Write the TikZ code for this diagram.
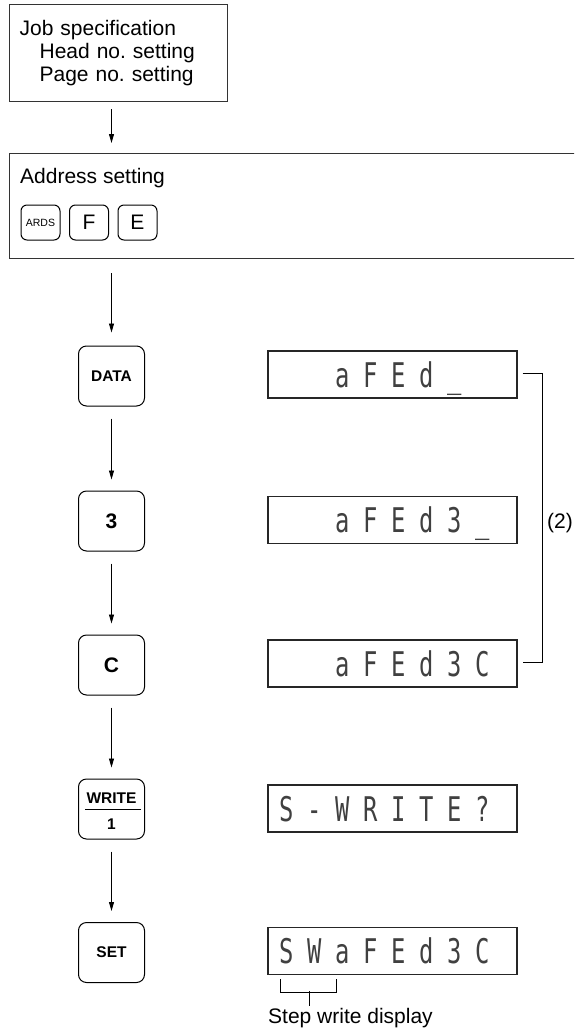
\documentclass[tikz,border=0pt]{standalone}
\usepackage{fontspec}
\usepackage{graphicx}
\setmainfont{Liberation Sans}
\newfontfamily\lcdfont{DejaVu Sans Mono}
\usetikzlibrary{arrows.meta}

\begin{document}
\begin{tikzpicture}[
        x=1pt, y=-1pt,
        stepbox/.style={draw=black!80, line width=1.2pt, inner sep=0pt},
        key/.style={draw, line width=1pt, rounded corners=8pt, minimum width=66pt, minimum height=60pt, inner sep=0pt, font=\fontsize{15.5}{18}\selectfont\bfseries},
        bigkey/.style={key, font=\fontsize{21}{24}\selectfont\bfseries},
        smallkey/.style={draw, line width=1pt, rounded corners=6pt, minimum width=39pt, minimum height=35pt, inner sep=0pt, font=\fontsize{21}{24}\selectfont},
        lcdbox/.style={draw=black!85, line width=1.2pt, minimum width=249pt, minimum height=47pt, inner sep=0pt},
        lcd/.style={font=\fontsize{34}{34}\lcdfont, text=black!75, anchor=base, inner sep=0pt},
        flow/.style={line width=0.9pt, -{Triangle[length=9pt, width=5pt]}, shorten <=12pt, shorten >=11pt},
        brk/.style={line width=1pt},
        txt/.style={font=\fontsize{21}{23}\selectfont, inner sep=0pt}
    ]
    \useasboundingbox (0,0) rectangle (574,1029);
    \clip (0,0) rectangle (574,1029);

    % Job specification
    \node[stepbox, anchor=north west, minimum width=218pt, minimum height=97pt, text width=198pt, inner xsep=10pt, align=left, font=\fontsize{21}{23}\selectfont] (job) at (9,4) {Job specification\\\hspace*{20pt}Head no.\ setting\\\hspace*{20pt}Page no.\ setting};

    % Address setting
    \node[stepbox, anchor=north west, minimum width=620pt, minimum height=105pt] (addr) at (9,153) {};
    \node[txt, anchor=west] (addrtxt) at (20,178) {Address setting};
    \node[smallkey, font=\fontsize{10.5}{12}\selectfont] (kards) at (40.5,222.5) {ARDS};
    \node[smallkey] (kf) at (89,222.5) {F};
    \node[smallkey] (ke) at (137.5,222.5) {E};

    % Keys
    \node[key] (kdata) at (111.5,376) {DATA};
    \node[bigkey] (kthree) at (111.5,521) {3};
    \node[bigkey] (kc) at (111.5,665) {C};
    \node[key] (kwrite) at (111.5,809) {};
    \node[key, draw=none, fill=none] (kwtop) at (111.5,798.5) {WRITE};
    \node[key, draw=none, fill=none] (kwbot) at (111.5,824.5) {1};
    \draw[brk] (85,809) -- (141,809);
    \node[key] (kset) at (111.5,952.5) {SET};

    % Displays
    \node[lcdbox] (ddata) at (392.5,374.5) {};
    \node[lcdbox] (dthree) at (392.5,520) {};
    \node[lcdbox] (dc) at (392.5,663.5) {};
    \node[lcdbox] (dwrite) at (392.5,808.5) {};
    \node[lcdbox] (dset) at (392.5,951) {};

    \foreach \c [count=\i from 3] in {a,F,E,d,\_}
        \node[lcd] at ([xshift={\i*28pt-9pt}, yshift=-12.5pt]ddata.west) {\scalebox{0.7}[1]{\c}};
    \foreach \c [count=\i from 3] in {a,F,E,d,3,\_}
        \node[lcd] at ([xshift={\i*28pt-9pt}, yshift=-12.5pt]dthree.west) {\scalebox{0.7}[1]{\c}};
    \foreach \c [count=\i from 3] in {a,F,E,d,3,C}
        \node[lcd] at ([xshift={\i*28pt-9pt}, yshift=-12.5pt]dc.west) {\scalebox{0.7}[1]{\c}};
    \foreach \c [count=\i] in {S,-,W,R,I,T,E,?}
        \node[lcd] at ([xshift={\i*28pt-9pt}, yshift=-12.5pt]dwrite.west) {\scalebox{0.7}[1]{\c}};
    \foreach \c [count=\i] in {S,W,a,F,E,d,3,C}
        \node[lcd] at ([xshift={\i*28pt-9pt}, yshift=-12.5pt]dset.west) {\scalebox{0.7}[1]{\c}};

    % Flow arrows
    \draw[flow, shorten <=7pt, shorten >=10pt] (job.south -| kdata) -- (addr.north -| kdata);
    \draw[flow, shorten <=14pt, shorten >=13pt] (addr.south -| kdata) -- (kdata);
    \draw[flow] (kdata) -- (kthree);
    \draw[flow] (kthree) -- (kc);
    \draw[flow] (kc) -- (kwrite);
    \draw[flow] (kwrite) -- (kset);

    % (2) bracket
    \draw[brk] ([xshift=5pt, yshift=1.5pt]ddata.east) -- ++(20,0) |- ([xshift=5pt, yshift=1.5pt]dc.east);
    \node[txt, anchor=west] (two) at (547,523) {(2)};

    % Step write bracket
    \coordinate (swmid) at (309,991);
    \draw[brk] ([xshift=13pt, yshift=-4pt]dset.south west) -- ++(0,13) -- ++(56,0) -- ++(0,-13);
    \node[txt, anchor=base west] (swd) at (268,1023) {Step write display};
    \draw[brk] (swmid) -- ([yshift=1.5pt]swmid |- swd.north);
\end{tikzpicture}
\end{document}
